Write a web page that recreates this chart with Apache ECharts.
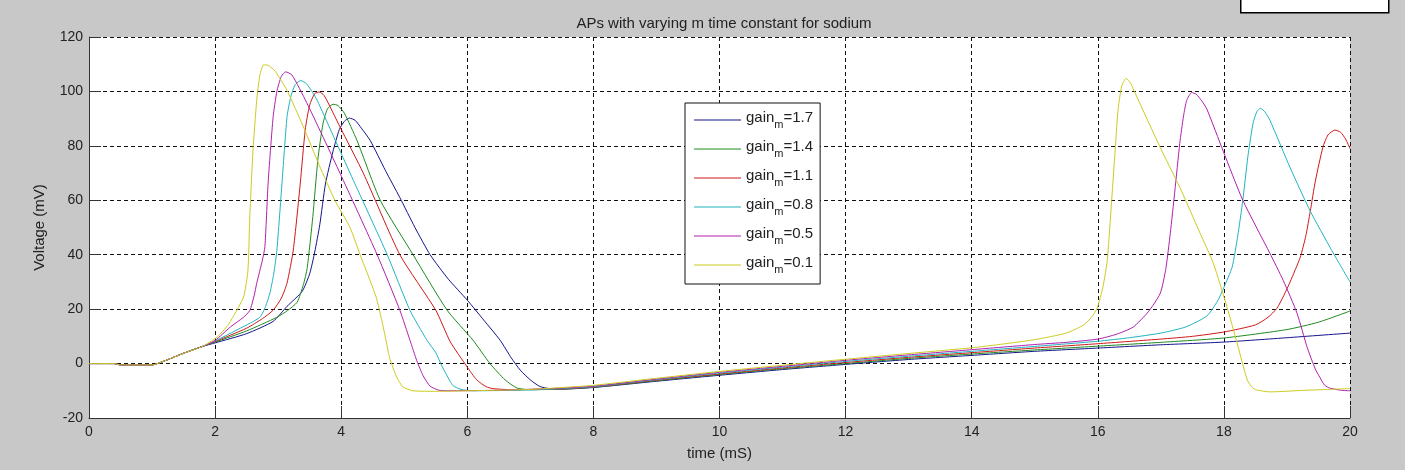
<!DOCTYPE html>
<html>
<head>
<meta charset="utf-8">
<script src="https://cdn.jsdelivr.net/npm/echarts@6.0.0/dist/echarts.min.js"></script>
<style>
  html, body { margin: 0; padding: 0; background: #c8c8c8; }
  #main { width: 1405px; height: 470px; }
</style>
</head>
<body>
<div id="main"></div>
<script>
// gain values shown in the legend (same order as the series)
var gains = ['1.7', '1.4', '1.1', '0.8', '0.5', '0.1'];

// common start of every trace: [time (mS), voltage (mV)]
var foot = [[0, 0], [0.4, 0], [0.5, -0.5], [1.0, -0.5], [1.2, 1], [1.5, 3.8], [1.8, 6.3]];

// gain_m = 1.7
var apGain17 = [
  [2.0, 7.6], [2.5, 11], [2.92, 15.5], [3.14, 21], [3.38, 26.5], [3.5, 33], [3.58, 41], [3.66, 51],
  [3.75, 66], [3.87, 78], [3.97, 86], [4.05, 89], [4.13, 90.2], [4.22, 89.4], [4.32, 86.5], [4.46, 82],
  [4.7, 71], [4.93, 61], [5.17, 50], [5.41, 40], [5.7, 31], [6.0, 23.3], [6.26, 16], [6.52, 8.6],
  [6.7, 2], [6.84, -2.4], [7.0, -6], [7.15, -8.4], [7.3, -9.2], [7.5, -9.4],
  [8, -8.8], [9, -6.5], [10, -4.3], [11, -2.2], [12, -0.3], [13, 1.5], [14, 3], [15, 4.5],
  [16, 5.7], [17, 6.9], [18, 7.9], [19, 9.5], [20, 11.2]
];

// gain_m = 1.4
var apGain14 = [
  [2.0, 7.9], [2.5, 12], [2.98, 17], [3.15, 19.5], [3.3, 22.5], [3.4, 29], [3.46, 35], [3.55, 54],
  [3.63, 75], [3.71, 88], [3.78, 93.5], [3.87, 95.3], [3.95, 94.8], [4.05, 92], [4.25, 82], [4.62, 60],
  [5.14, 40], [5.68, 19.6], [6.09, 8.6], [6.36, 0], [6.6, -6], [6.79, -9], [7.0, -9.6], [7.5, -9.4],
  [8, -8.7], [9, -6.3], [10, -4], [11, -1.9], [12, 0], [13, 1.9], [14, 3.5], [15, 5],
  [16, 6.4], [17, 7.8], [18, 9.4], [19, 12.5], [19.5, 15.2], [20, 19.3]
];

// gain_m = 1.1
var apGain11 = [
  [2.0, 8.1], [2.5, 13], [2.75, 16.5], [2.92, 19.6], [3.05, 24], [3.14, 29.5], [3.24, 41.7], [3.35, 66],
  [3.43, 86], [3.5, 95], [3.58, 99.2], [3.65, 99.8], [3.73, 98.5], [3.98, 87], [4.35, 70], [4.93, 40],
  [5.5, 19.6], [5.73, 8], [6.0, -1.3], [6.15, -6], [6.3, -8.5], [6.41, -9.2], [6.7, -9.6], [7.5, -9.3],
  [8, -8.6], [9, -6.1], [10, -3.8], [11, -1.6], [12, 0.4], [13, 2.3], [14, 4], [15, 5.7],
  [16, 7.3], [17, 9], [17.5, 10], [18, 11.6], [18.5, 14.2], [18.7, 17], [18.84, 20.3], [18.95, 25],
  [19.05, 30], [19.21, 39], [19.3, 47], [19.37, 56], [19.45, 67], [19.57, 79.5], [19.65, 84],
  [19.76, 85.8], [19.85, 85], [19.93, 82.5], [20, 79]
];

// gain_m = 0.8
var apGain08 = [
  [2.0, 8.3], [2.4, 13], [2.71, 17], [2.8, 21], [2.87, 26], [2.93, 33], [2.98, 41.7], [3.06, 66],
  [3.14, 90.5], [3.2, 98], [3.27, 102.5], [3.36, 104], [3.45, 102.8], [3.55, 99.5], [3.62, 96.7],
  [4.14, 70], [4.73, 40], [5.09, 19.6], [5.36, 8.6], [5.5, 4], [5.6, -1], [5.77, -8], [5.9, -9.5],
  [6.09, -10], [7, -9.7], [7.5, -9.2],
  [8, -8.5], [9, -5.9], [10, -3.5], [11, -1.3], [12, 0.8], [13, 2.7], [14, 4.5], [15, 6.3],
  [16, 8.2], [16.5, 9.5], [17, 11.2], [17.4, 13.5], [17.73, 17.5], [17.9, 23], [18.0, 28],
  [18.13, 35.4], [18.22, 47], [18.3, 60], [18.38, 76], [18.46, 88], [18.52, 92.5], [18.58, 93.8],
  [18.65, 92.5], [18.73, 89.4], [19.05, 72], [19.37, 56], [19.7, 42], [20, 30]
];

// gain_m = 0.5
var apGain05 = [
  [2.0, 8.5], [2.24, 13.4], [2.45, 17], [2.55, 19.5], [2.62, 25], [2.66, 29.5], [2.75, 38], [2.79, 43],
  [2.84, 66], [2.92, 90.5], [2.98, 100], [3.05, 105.5], [3.12, 107.2], [3.22, 106], [3.45, 96],
  [3.98, 70], [4.57, 40], [4.93, 19.6], [5.09, 8.6], [5.2, 1], [5.3, -4.5], [5.41, -8.3], [5.55, -9.8],
  [5.68, -10], [6.5, -9.8], [7.5, -9],
  [8, -8.3], [9, -5.7], [10, -3.2], [11, -1], [12, 1.2], [13, 3.2], [14, 5.1], [15, 7],
  [15.5, 7.8], [16, 9], [16.3, 10.8], [16.56, 13.4], [16.8, 19], [16.99, 25.8], [17.08, 35],
  [17.15, 47.9], [17.22, 63], [17.3, 80.9], [17.36, 91], [17.41, 96.7], [17.49, 99.6], [17.56, 99],
  [17.65, 96.5], [17.73, 93.5], [17.99, 78], [18.3, 60], [18.73, 40.5], [18.94, 30.6], [19.16, 18.5],
  [19.32, 6], [19.45, -2], [19.52, -5], [19.6, -8], [19.68, -9], [19.85, -9.8], [20, -10]
];

// gain_m = 0.1
var apGain01 = [
  [2.03, 9.7], [2.2, 14], [2.28, 17], [2.45, 24.4], [2.52, 34], [2.55, 53.8], [2.6, 78], [2.66, 96.7],
  [2.71, 106], [2.77, 109.8], [2.84, 109.6], [2.95, 107.5], [3.14, 100.4], [3.4, 87], [3.65, 73],
  [3.9, 60], [4.14, 50], [4.3, 40], [4.45, 31], [4.56, 24], [4.68, 12], [4.77, 2], [4.88, -5],
  [4.98, -8.6], [5.14, -10], [5.5, -10.2], [6, -10], [7, -9.5], [7.5, -8.8],
  [8, -8], [9, -5.4], [10, -2.9], [11, -0.6], [12, 1.6], [13, 3.7], [14, 5.8], [14.5, 7.2],
  [15, 8.8], [15.5, 11.2], [15.77, 14.1], [15.9, 17], [15.99, 20.4], [16.08, 28], [16.15, 38],
  [16.22, 60], [16.28, 80], [16.32, 93], [16.38, 102], [16.45, 104.8], [16.52, 103], [16.6, 99],
  [16.99, 79.4], [17.3, 64.8], [17.62, 48], [17.83, 37], [18.05, 20.7], [18.21, 7.5], [18.37, -6],
  [18.45, -8.8], [18.52, -9.7], [18.73, -10.4], [19.3, -9.8], [20, -9.2]
];

var traces = [apGain17, apGain14, apGain11, apGain08, apGain05, apGain01];
var colors = ['#14148c', '#1f8a1f', '#d01818', '#20b4c0', '#b020b0', '#cccc20'];

var fontFamily = '"Liberation Sans", Arial, sans-serif';

var chartDom = document.getElementById('main');
var myChart = echarts.init(chartDom);

var series = traces.map(function (pts, i) {
  return {
    name: gains[i],
    type: 'line',
    data: foot.concat(pts),
    symbol: 'none',
    smooth: 0.2,
    lineStyle: { color: colors[i], width: 1 },
    itemStyle: { color: colors[i] },
    emphasis: { disabled: true }
  };
});

var option = {
  animation: false,
  backgroundColor: '#c8c8c8',
  textStyle: { fontFamily: fontFamily },
  title: {
    text: 'APs with varying m time constant for sodium',
    left: 719,
    textAlign: 'center',
    top: 11,
    textStyle: { fontSize: 15, fontWeight: 'normal', color: '#222', fontFamily: fontFamily }
  },
  grid: {
    left: 89,
    right: 55,
    top: 37,
    bottom: 52,
    show: true,
    backgroundColor: '#fff',
    borderWidth: 0
  },
  legend: {
    orient: 'vertical',
    left: 685,
    top: 103,
    padding: [7, 7, 9, 9],
    itemGap: 9,
    itemWidth: 47,
    itemHeight: 1,
    icon: 'rect',
    backgroundColor: '#fff',
    borderColor: '#111',
    borderWidth: 1,
    borderRadius: 0,
    data: gains,
    formatter: function (name) {
      return '{g|gain}{m|m}{g|=' + name + '}';
    },
    textStyle: {
      color: '#222',
      rich: {
        g: { fontSize: 15, verticalAlign: 'top', color: '#222', fontFamily: fontFamily },
        m: { fontSize: 11, padding: [9, 0, 0, 0], verticalAlign: 'top', color: '#222', fontFamily: fontFamily }
      }
    }
  },
  xAxis: {
    type: 'value',
    min: 0,
    max: 20,
    interval: 2,
    name: 'time (mS)',
    nameLocation: 'middle',
    nameGap: 28,
    nameTextStyle: { fontSize: 15, color: '#222' },
    axisLine: { onZero: false, lineStyle: { color: '#333', width: 1 } },
    axisTick: { inside: true, length: 12, lineStyle: { color: '#333' } },
    axisLabel: { fontSize: 14, color: '#222', margin: 7 },
    splitLine: { show: true, lineStyle: { color: '#111', type: [4, 3], width: 1 } }
  },
  yAxis: {
    type: 'value',
    min: -20,
    max: 120,
    interval: 20,
    name: 'Voltage (mV)',
    nameLocation: 'middle',
    nameGap: 42,
    nameTextStyle: { fontSize: 15, color: '#222' },
    axisLine: { show: true, onZero: false, lineStyle: { color: '#333', width: 1 } },
    axisTick: { show: true, inside: true, length: 12, lineStyle: { color: '#333' } },
    axisLabel: { fontSize: 14, color: '#222', margin: 6 },
    splitLine: { show: true, lineStyle: { color: '#111', type: [4, 3], width: 1 } }
  },
  graphic: [
    {
      type: 'rect',
      left: 1240,
      top: -2,
      shape: { width: 148, height: 14 },
      style: { fill: '#fff', stroke: '#000', lineWidth: 1.5 }
    }
  ],
  series: series
};

option && myChart.setOption(option);
</script>
</body>
</html>
